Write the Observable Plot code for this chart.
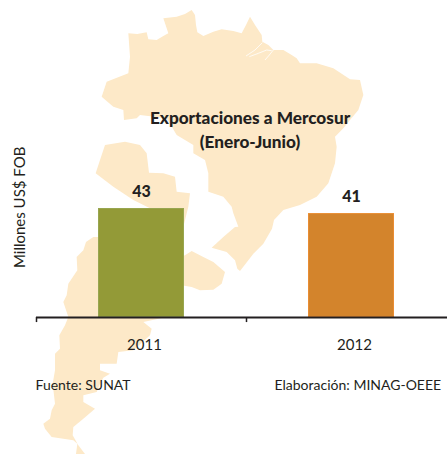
<!DOCTYPE html>
<html><head><meta charset="utf-8">
<style>html,body{margin:0;padding:0;background:#fff}svg{display:block}</style>
<script src="https://cdn.jsdelivr.net/npm/d3@7"></script>
<script src="https://cdn.jsdelivr.net/npm/@observablehq/plot@0.6"></script>
</head><body><div id="chart"></div>
<script>
const years = ["2011", "2012"];
const exportsValues = [43, 41];
const barColors = ["#939a37", "#d3842c"];
const barEdges = ["#98a650", "#ea8d33"];
const titleText = "Exportaciones a Mercosur\n(Enero-Junio)";
const yLabel = "Millones US$ FOB";
const sourceText = "Fuente: SUNAT";
const creditText = "Elaboración: MINAG-OEEE";
// Backdrop silhouettes, traced in thirds of a reference pixel
const brazil = [[385,100],[412,102],[440,97],[445,118],[470,120],[490,108],[505,100],[490,55],[530,50],[555,42],[575,30],[585,45],[588,75],[592,97],[610,108],[640,95],[665,88],[700,93],[725,100],[738,75],[750,50],[765,75],[785,105],[787,125],[805,135],[820,150],[850,150],[875,165],[890,175],[900,190],[950,190],[1000,205],[1050,238],[1080,240],[1090,285],[1075,330],[1050,360],[1030,385],[1005,410],[1010,440],[1005,490],[985,550],[950,590],[900,615],[850,630],[822,660],[816,686],[790,731],[760,761],[745,781],[720,813],[712,806],[705,781],[680,756],[635,743],[670,711],[705,681],[715,680],[700,640],[695,620],[670,590],[625,575],[625,520],[615,480],[580,460],[580,435],[530,405],[500,355],[420,345],[410,355],[372,360],[370,330],[340,320],[305,290],[320,245],[385,220],[390,170]];
const paraguay = [[315,435],[375,425],[420,435],[440,460],[447,518],[490,520],[525,530],[530,575],[570,580],[565,620],[550,680],[450,625],[400,600],[340,560],[287,520],[300,480]];
const uruguay = [[540,770],[555,766],[575,753],[610,771],[640,786],[675,816],[665,851],[640,869],[600,871],[575,861],[540,855]];
const argentina = [[280,711],[258,726],[250,751],[230,771],[232,811],[205,851],[200,886],[190,906],[205,951],[195,976],[178,1006],[180,1046],[165,1061],[165,1111],[158,1151],[165,1211],[155,1231],[150,1256],[130,1271],[135,1286],[155,1311],[220,1321],[232,1331],[228,1362],[255,1362],[235,1336],[218,1306],[220,1281],[250,1256],[285,1226],[250,1206],[250,1186],[290,1176],[300,1151],[310,1133],[330,1121],[300,1111],[300,1091],[350,1091],[355,1056],[400,1051],[450,1006],[455,986],[430,966],[500,951],[500,780],[295,711]];
const deltaChannels = [[[738,168],[765,150],[787,128]],[[748,170],[775,160],[800,150],[815,152]],[[795,180],[808,165],[820,150]]];
const silhouettes = [brazil, paraguay, uruguay, argentina];
const table = years.map((year, i) => ({year, value: exportsValues[i], color: barColors[i], edge: barEdges[i]}));
const font = "Lato, sans-serif";
const ink = "#231f20";
const outline = d3.line().x(d => d[0] / 3).y(d => d[1] / 3);
const backdrop = () => {
  const g = d3.create("svg:g");
  g.selectAll("path.land").data(silhouettes).join("path").attr("class", "land").attr("fill", "#fde9c8").attr("d", d => outline(d) + "Z");
  g.selectAll("path.channel").data(deltaChannels).join("path").attr("class", "channel").attr("fill", "none").attr("stroke", "#fff").attr("stroke-width", 0.8).attr("d", outline);
  return g.node();
};
const chart = Plot.plot({
  width: 447, height: 454,
  marginTop: 208, marginBottom: 137, marginLeft: 36, marginRight: 0,
  style: {fontFamily: font, background: "#fff", overflow: "hidden"},
  x: {domain: years, range: [36, 456], paddingInner: 0.59, paddingOuter: 0.295, axis: null},
  y: {domain: [0, 43], axis: null},
  marks: [
    backdrop,
    Plot.barY(table, {x: "year", y: "value", fill: "color", stroke: "edge", inset: 0.5}),
    Plot.ruleY([0], {stroke: "#231f20", strokeWidth: 2}),
    Plot.ruleX(years, {x: d => d, dx: -105, y1: 0, y2: -2, stroke: "#231f20", strokeWidth: 1.5}),
    Plot.text(table, {x: "year", y: 0, text: "year", dx: 3, dy: 28, fontSize: 15, fill: ink}),
    Plot.text(table, {x: "year", y: "value", text: d => String(d.value), dy: -17, fontSize: 16, fontWeight: 900, fill: ink}),
    Plot.text([titleText], {frameAnchor: "top", dx: 8, dy: -101, lineHeight: 1.36, fontSize: 17.2, fontWeight: 900, fill: ink}),
    Plot.text([yLabel], {frameAnchor: "left", rotate: -90, dx: -16, dy: 5, fontSize: 15, fill: ink}),
    Plot.text([sourceText], {frameAnchor: "bottom-left", dx: -1, dy: 72, fontSize: 14, fill: ink}),
    Plot.text([creditText], {frameAnchor: "bottom-left", dx: 238, dy: 72, fontSize: 14, fill: ink})
  ]
});
document.getElementById("chart").append(chart);
</script></body></html>
